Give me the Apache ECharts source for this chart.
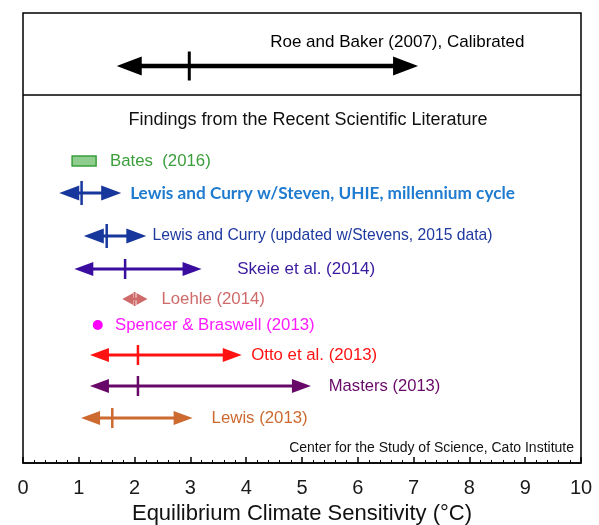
<!DOCTYPE html>
<html>
<head>
<meta charset="utf-8">
<script src="https://cdn.jsdelivr.net/npm/echarts@6/dist/echarts.min.js"></script>
<style>
  html, body { margin: 0; padding: 0; background: #fff; }
  #chart { width: 599px; height: 525px; }
</style>
</head>
<body>
<div id="chart"></div>
<script>
// studies (values in °C)
const studies = [
  'Roe and Baker (2007), Calibrated',
  'Bates  (2016)',
  'Lewis and Curry w/Steven, UHIE, millennium cycle',
  'Lewis and Curry (updated w/Stevens, 2015 data)',
  'Skeie et al. (2014)',
  'Loehle (2014)',
  'Spencer & Braswell (2013)',
  'Otto et al. (2013)',
  'Masters (2013)',
  'Lewis (2013)'
];
const lows  = [1.68, 0.88, 0.65, 1.09, 0.92, 1.78, 1.34, 1.20, 1.20, 1.04];
const best  = [2.98, null, 1.05, 1.50, 1.83, 2.00, 1.34, 2.06, 2.06, 1.60];
const highs = [7.08, 1.31, 1.76, 2.21, 3.20, 2.23, 1.34, 3.92, 5.16, 3.04];

// layout: row offset from the top of the box (px), where each label starts (°C)
const rowY   = [53, 148, 180, 223, 256, 286, 312, 342, 373, 405];
const labelX = [4.43, 1.56, 1.92, 2.32, 3.84, 2.48, 1.65, 4.09, 5.48, 3.38];
const kinds  = ['arrow', 'box', 'arrow', 'arrow', 'arrow', 'arrow', 'dot', 'arrow', 'arrow', 'arrow'];

const arrowColors = ['#000000', '#3a9e3a', '#17379c', '#17379c', '#3a0d9e', '#cf6a6a', '#ff00ff', '#ff1212', '#680868', '#cc6a30'];
const textColors  = ['#000000', '#3a9e3a', '#1f7bd0', '#1f3a9e', '#3a1a9e', '#cf6a6a', '#ff1aff', '#ff1212', '#680868', '#cc6a30'];
const fontSizes   = [17, 16.8, 17.2, 15.7, 17, 16.8, 16.8, 16.8, 16.6, 16.8];

const sizes = {
  big:   { lw: 4.5, hl: 25, hh: 19, th: 29, tw: 3 },
  mid:   { lw: 3,   hl: 20, hh: 15, th: 24, tw: 2.5 },
  small: { lw: 3,   hl: 19, hh: 14, th: 20, tw: 2.5 },
  tiny:  { lw: 2.5, hl: 11, hh: 12, th: 14, tw: 2 }
};
const rowSize = ['big', null, 'mid', 'mid', 'small', 'tiny', null, 'small', 'small', 'small'];

const chart = echarts.init(document.getElementById('chart'));

function renderItem(params, api) {
  const i = params.dataIndex;
  const y = api.coord([0, api.value(3)])[1];
  const xl = api.coord([api.value(0), 0])[0];
  const xr = api.coord([api.value(2), 0])[0];
  const color = arrowColors[i];
  const children = [];

  if (kinds[i] === 'box') {
    children.push({
      type: 'rect',
      shape: { x: xl, y: y - 5, width: xr - xl, height: 10 },
      style: { fill: '#8fcd8f', stroke: '#3a9e3a', lineWidth: 1.5 }
    });
  } else if (kinds[i] === 'dot') {
    children.push({
      type: 'circle',
      shape: { cx: xl, cy: y, r: 5 },
      style: { fill: color }
    });
  } else {
    const s = sizes[rowSize[i]];
    const xm = api.coord([api.value(1), 0])[0];
    children.push({
      type: 'line',
      shape: { x1: xl + s.hl * 0.5, y1: y, x2: xr - s.hl * 0.5, y2: y },
      style: { stroke: color, lineWidth: s.lw }
    });
    children.push({
      type: 'polygon',
      shape: { points: [[xl, y], [xl + s.hl, y - s.hh / 2], [xl + s.hl, y + s.hh / 2]] },
      style: { fill: color }
    });
    children.push({
      type: 'polygon',
      shape: { points: [[xr, y], [xr - s.hl, y - s.hh / 2], [xr - s.hl, y + s.hh / 2]] },
      style: { fill: color }
    });
    children.push({
      type: 'line',
      shape: { x1: xm, y1: y - s.th / 2, x2: xm, y2: y + s.th / 2 },
      style: { stroke: color, lineWidth: s.tw }
    });
  }

  const tx = api.coord([labelX[i], 0])[0];
  const bold = i === 2;
  children.push({
    type: 'text',
    style: {
      text: studies[i],
      x: tx,
      y: i === 0 ? y - 24 : y,
      fill: textColors[i],
      font: (bold ? 'bold ' : '') + fontSizes[i] + 'px ' + (bold ? 'Lato' : '"Liberation Sans"'),
      verticalAlign: 'middle',
      align: 'left'
    }
  });

  return { type: 'group', children: children };
}

const option = {
  animation: false,
  title: [
    {
      text: 'Findings from the Recent Scientific Literature',
      left: 303,
      top: 106,
      textAlign: 'center',
      textStyle: { fontFamily: 'Liberation Sans', fontSize: 18, fontWeight: 'normal', color: '#111' }
    },
    {
      text: 'Center for the Study of Science, Cato Institute',
      right: 20,
      top: 436,
      textStyle: { fontFamily: 'Liberation Sans', fontSize: 14, fontWeight: 'normal', color: '#111' }
    }
  ],
  grid: {
    left: 23, right: 18, top: 13, bottom: 62,
    outerBoundsMode: 'none',
    show: true, borderColor: '#000', borderWidth: 1.5
  },
  xAxis: {
    type: 'value',
    position: 'bottom',
    min: 0, max: 10, interval: 1,
    name: 'Equilibrium Climate Sensitivity (°C)',
    nameLocation: 'middle',
    nameGap: 33,
    nameTextStyle: { fontFamily: 'Liberation Sans', fontSize: 22, color: '#111' },
    axisLine: { onZero: false, lineStyle: { color: '#000', width: 1.5 } },
    axisTick: { inside: true, length: 6, lineStyle: { color: '#000', width: 1.5 } },
    minorTick: { show: true, splitNumber: 5, length: 3, lineStyle: { color: '#000', width: 1 } },
    splitLine: { show: false },
    axisLabel: { fontFamily: 'Liberation Sans', fontSize: 20, color: '#1a1a1a', margin: 15 }
  },
  yAxis: {
    type: 'value',
    min: 0, max: 450,
    inverse: true,
    show: false
  },
  series: [
    {
      type: 'custom',
      renderItem: renderItem,
      encode: { x: [0, 1, 2], y: 3 },
      data: studies.map((s, i) => [lows[i], best[i] == null ? lows[i] : best[i], highs[i], rowY[i]]),
      silent: true
    },
    {
      type: 'line',
      data: [],
      silent: true,
      markLine: {
        symbol: 'none',
        silent: true,
        label: { show: false },
        lineStyle: { color: '#000', width: 1.5, type: 'solid' },
        data: [[{ coord: [0, 82] }, { coord: [10, 82] }]]
      }
    }
  ]
};

chart.setOption(option);
</script>
</body>
</html>
